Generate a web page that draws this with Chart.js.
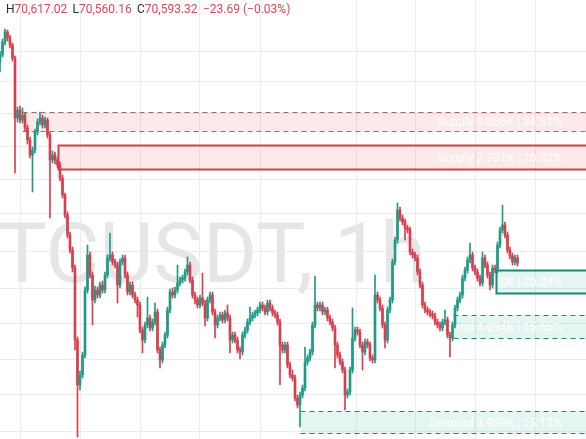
<!DOCTYPE html>
<html>
<head>
<meta charset="utf-8">
<title>BTCUSDT, 1h</title>
<script src="https://cdn.jsdelivr.net/npm/chart.js@4.4.1/dist/chart.umd.min.js"></script>
<style>
  html, body { margin: 0; padding: 0; background: #fff; }
  #wrap { position: relative; width: 586px; height: 439px; overflow: hidden; }
</style>
</head>
<body>
<div id="wrap"><canvas id="btc-chart" width="586" height="439"></canvas></div>
<script>
// hourly candles (USDT)
var opens = [
  74760,74900,75160,75360,75240,75100,74840,73640,73800,73600,
  73700,73440,73200,72900,73000,73360,73560,73640,73500,73600,
  73300,72800,72900,72800,72700,72440,72100,71700,71300,71000,
  70640,69200,68300,68500,68900,70200,70900,70500,70000,70200,
  70100,70300,70200,70500,70840,70900,70760,70700,70300,70760,
  70840,70500,70160,70300,70100,70000,69900,69400,69200,69500,
  69640,69440,69560,69760,69000,68800,69100,69300,69800,70160,
  70100,70200,70340,70400,70440,70560,70700,70400,70100,70000,
  69900,70040,69940,69640,70000,70100,69760,69500,69640,69700,
  69600,69740,69640,69200,69300,69200,69000,68960,69300,69400,
  69560,69640,69700,69740,69800,69900,69840,69760,69940,69840,
  69740,69700,69560,69100,69000,69100,68700,68500,68440,68040,
  67900,68100,68240,68760,68840,68960,69500,69900,69840,69900,
  69760,69800,69640,69560,69440,69100,68900,68760,68600,68100,
  68160,68600,69240,69400,69360,69100,68960,69160,69100,68840,
  68800,70100,70000,69840,69500,69200,69800,70000,70760,71200,
  71800,71640,71560,71440,71400,70960,70900,70840,70560,70300,
  69900,69800,69760,69720,69680,69560,69500,69440,69560,69600,
  69300,69240,69500,69840,70000,70100,70440,70600,70800,70900,
  70640,70560,70440,70340,70840,70700,70500,70300,70640,70600,
  71100,71400,71500,71300,71000,70880,70760,70840
];
var highs = [
  74980,75220,75420,75400,75300,75140,74880,73860,73880,73840,
  73740,73500,73260,73060,73420,73620,73760,73700,73660,73640,
  73360,72980,72960,72860,72760,72500,72140,71760,71360,71060,
  70700,69260,68580,68960,70260,71100,70960,70560,70280,70260,
  70360,70380,70560,70900,71340,70960,70820,70760,70820,70900,
  70900,70560,70360,70360,70160,70060,69960,69460,69560,70060,
  69700,69620,69940,69820,69060,69160,69360,69860,70220,70240,
  70260,70700,70460,70500,70620,70860,70760,70460,70160,70060,
  70100,70540,70000,70060,70160,70160,69820,69700,69760,69760,
  69800,69900,69700,69360,69360,69260,69060,69360,69460,69620,
  69860,69760,69800,69860,69960,69960,69900,70000,70000,69900,
  69800,69760,69620,69160,69160,69160,68760,68600,68500,68100,
  68160,68300,69060,68900,69020,69560,70480,69960,69960,69960,
  69860,69860,69700,69620,69500,69160,68960,68820,68660,68220,
  68660,69840,69460,69460,69420,69160,69220,69220,69160,68900,
  70500,70160,70060,69900,69560,69860,70060,70820,71260,71940,
  71860,71700,71620,71500,71460,71020,70960,70900,70620,70360,
  69960,69860,69820,69780,69740,69620,69560,69620,69800,69660,
  69360,69560,69900,70060,70160,70500,70660,70860,71140,70960,
  70700,70620,70500,70960,70900,70760,70560,70700,70700,71160,
  71460,71900,71560,71360,71060,70940,70900,70900
];
var lows = [
  74560,74860,75100,75180,75040,74780,72540,73560,73540,73540,
  73380,73120,72840,72160,72940,73300,73500,73440,73440,73240,
  71640,72740,72720,72640,72380,72040,71640,71240,70940,70560,
  69000,67260,68200,68440,68840,70140,70440,69500,69940,70040,
  70040,70140,70140,70440,70780,70700,70640,69940,70240,70700,
  70440,70100,70100,70040,69940,69660,69340,68940,69140,69440,
  69380,69380,69500,68940,68640,68740,69040,69240,69740,70040,
  70040,70140,70280,70340,70380,70500,70340,70040,69920,69840,
  69840,69880,69480,69580,69940,69700,69240,69440,69580,69540,
  69540,69580,68940,69140,69140,68940,68820,68900,69240,69340,
  69500,69580,69640,69680,69740,69780,69700,69700,69780,69680,
  69640,69500,68300,68940,68940,68640,68440,68380,67980,67840,
  67460,68040,68180,68700,68780,68900,69440,69780,69780,69700,
  69700,69580,69500,69380,68640,68840,68700,68540,67800,68040,
  68100,68540,69180,69300,69040,68600,68900,69040,68780,68740,
  68740,69940,69780,69440,69040,69140,69740,69940,70700,71140,
  71580,71500,71200,71340,70900,70840,70780,70500,70240,69840,
  69740,69700,69660,69620,69500,69440,69380,69380,69500,69240,
  68860,69180,69440,69780,69940,70040,70380,70540,70740,70580,
  70500,70380,70280,70280,70640,70440,70200,70240,70540,70540,
  71040,71340,71240,70940,70820,70700,70700,70680
];
var closes = [
  74900,75160,75360,75240,75100,74840,73640,73800,73600,73700,
  73440,73200,72900,73000,73360,73560,73640,73500,73600,73300,
  72800,72900,72800,72700,72440,72100,71700,71300,71000,70640,
  69200,68300,68500,68900,70200,70900,70500,70000,70200,70100,
  70300,70200,70500,70840,70900,70760,70700,70300,70760,70840,
  70500,70160,70300,70100,70000,69900,69400,69200,69500,69640,
  69440,69560,69760,69000,68800,69100,69300,69800,70160,70100,
  70200,70340,70400,70440,70560,70700,70400,70100,70000,69900,
  70040,69940,69640,70000,70100,69760,69500,69640,69700,69600,
  69740,69640,69200,69300,69200,69000,68960,69300,69400,69560,
  69640,69700,69740,69800,69900,69840,69760,69940,69840,69740,
  69700,69560,69100,69000,69100,68700,68500,68440,68040,67900,
  68100,68240,68760,68840,68960,69500,69900,69840,69900,69760,
  69800,69640,69560,69440,69100,68900,68760,68600,68100,68160,
  68600,69240,69400,69360,69100,68960,69160,69100,68840,68800,
  70100,70000,69840,69500,69200,69800,70000,70760,71200,71800,
  71640,71560,71440,71400,70960,70900,70840,70560,70300,69900,
  69800,69760,69720,69680,69560,69500,69440,69560,69600,69300,
  69240,69500,69840,70000,70100,70440,70600,70800,70900,70640,
  70560,70440,70340,70840,70700,70500,70300,70640,70600,71100,
  71400,71500,71300,71000,70880,70760,70840,70740
];

// grid levels: price lines and time lines (in candle index)
var priceGrid = [74980, 74380, 73720, 73080, 72420, 71720, 70980, 70240, 69520, 68820, 68120, 67380];
var timeGrid = [8, 32, 56, 80, 104, 142.4, 166, 190, 214];

// supply / demand zones
var zoneNames = ['Supply 9.056K | 34.61%', 'Supply 2.701K | 10.32%', 'Demand 5.310K | 20.24%', 'Demand 4.094K | 15.65%', 'Demand 3.959K | 15.13%'];
var zoneKinds = ['supply', 'supply', 'demand', 'demand', 'demand'];
var zoneTested = [true, false, false, true, true];
var zoneFrom = [8.7, 23.3, 198.3, 181.2, 120];
var zoneTop = [73770, 73100, 70600, 69710, 67780];
var zoneBottom = [73390, 72620, 70150, 69250, 67340];

var symbolName = 'BTCUSDT, 1h';
var lastHigh = '70,617.02';
var lastLow = '70,560.16';
var lastClose = '70,593.32';
var lastChange = '\u221223.69 (\u22120.03%)';

var UP = '#1f9a86';
var DOWN = '#d63f4d';
var GRID = '#ececec';

var candleColor = function(ctx) {
  var i = ctx.dataIndex;
  return closes[i] >= opens[i] ? UP : DOWN;
};

var wickData = [];
var bodyData = [];
for (var i = 0; i < closes.length; i++) {
  wickData.push({x: i, y: [lows[i], highs[i]]});
  bodyData.push({x: i, y: [opens[i], closes[i]]});
}

var zonesPlugin = {
  id: 'zones',
  beforeDatasetsDraw: function(chart) {
    var ctx = chart.ctx;
    var xs = chart.scales.x;
    var ys = chart.scales.y;
    var area = chart.chartArea;
    ctx.save();

    // watermark
    ctx.font = '83px Roboto, sans-serif';
    ctx.fillStyle = '#e6e6e6';
    ctx.textAlign = 'right';
    ctx.textBaseline = 'alphabetic';
    ctx.fillText(symbolName, 426, 282);

    for (var i = 0; i < zoneNames.length; i++) {
      var x0 = Math.round(xs.getPixelForValue(zoneFrom[i])) + 0.5;
      var y0 = Math.round(ys.getPixelForValue(zoneTop[i])) + 0.5;
      var y1 = Math.round(ys.getPixelForValue(zoneBottom[i])) + 0.5;
      var x1 = area.right + 2;
      var supply = zoneKinds[i] === 'supply';

      ctx.fillStyle = supply ? 'rgba(247,82,95,0.13)' : 'rgba(34,171,148,0.12)';
      ctx.fillRect(x0, y0, x1 - x0, y1 - y0);

      // label, clipped to the box
      ctx.save();
      ctx.beginPath();
      ctx.rect(x0, y0, x1 - x0, y1 - y0);
      ctx.clip();
      ctx.font = '12px Roboto, sans-serif';
      ctx.fillStyle = 'rgba(255,255,255,0.95)';
      ctx.textAlign = 'right';
      ctx.textBaseline = 'middle';
      ctx.fillText(zoneNames[i], area.right - 24, (y0 + y1) / 2 + 1);
      ctx.restore();

      ctx.beginPath();
      if (zoneTested[i]) {
        ctx.setLineDash([5, 4]);
        ctx.lineWidth = 1;
        ctx.strokeStyle = supply ? '#a5676c' : '#23877a';
        ctx.moveTo(x0, y0); ctx.lineTo(x1, y0);
        ctx.moveTo(x0, y1); ctx.lineTo(x1, y1);
      } else {
        ctx.setLineDash([]);
        ctx.lineWidth = 2;
        ctx.strokeStyle = supply ? '#c9454d' : '#168a79';
        ctx.moveTo(x1, y0); ctx.lineTo(x0, y0); ctx.lineTo(x0, y1); ctx.lineTo(x1, y1);
      }
      ctx.stroke();
      ctx.setLineDash([]);
    }
    ctx.restore();
  },
  afterDraw: function(chart) {
    var ctx = chart.ctx;
    var red = '#d84a55';
    var dark = '#2a2e39';
    var parts = [
      [6, 'H', lastHigh], [72.5, 'L', lastLow], [137, 'C', lastClose], [203, '', lastChange]
    ];
    ctx.save();
    ctx.font = '12px Roboto, sans-serif';
    ctx.textBaseline = 'middle';
    ctx.textAlign = 'left';
    parts.forEach(function(p) {
      var x = p[0];
      if (p[1]) {
        ctx.fillStyle = dark;
        ctx.fillText(p[1], x, 10);
        x += ctx.measureText(p[1]).width;
      }
      ctx.fillStyle = red;
      ctx.fillText(p[2], x, 10);
    });
    ctx.restore();
  }
};

var chart = new Chart(document.getElementById('btc-chart'), {
  type: 'bar',
  data: {
    datasets: [{
      label: 'wick',
      data: wickData,
      backgroundColor: candleColor,
      barThickness: 1,
      grouped: false,
      order: 2
    }, {
      label: 'body',
      data: bodyData,
      backgroundColor: candleColor,
      barThickness: 2,
      minBarLength: 1,
      grouped: false,
      order: 1
    }]
  },
  options: {
    responsive: false,
    animation: false,
    events: [],
    layout: { padding: 0 },
    plugins: { legend: { display: false }, tooltip: { enabled: false } },
    scales: {
      x: {
        type: 'linear',
        min: 0,
        max: 234.4,
        offset: false,
        grid: { color: GRID, drawTicks: false, offset: false },
        border: { display: false },
        ticks: { display: false },
        afterBuildTicks: function(scale) {
          scale.ticks = timeGrid.map(function(v) { return {value: v}; });
        }
      },
      y: {
        type: 'linear',
        min: 67220,
        max: 76000,
        grid: { color: GRID, drawTicks: false },
        border: { display: false },
        ticks: { display: false },
        afterBuildTicks: function(scale) {
          scale.ticks = priceGrid.map(function(v) { return {value: v}; });
        }
      }
    }
  },
  plugins: [zonesPlugin]
});
</script>
</body>
</html>
